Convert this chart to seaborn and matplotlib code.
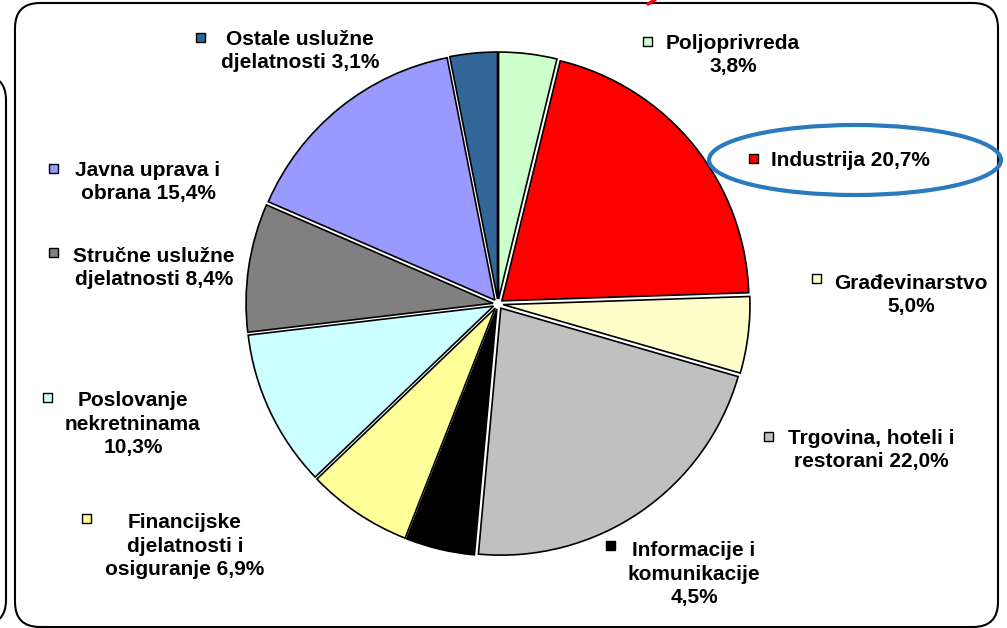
import matplotlib
matplotlib.use("Agg")
import matplotlib.pyplot as plt
from matplotlib.patches import Ellipse, FancyBboxPatch, Rectangle
import seaborn as sns

W, H = 1007, 628

SECTORS = [
    "Poljoprivreda", "Industrija", "Građevinarstvo", "Trgovina, hoteli i restorani",
    "Informacije i komunikacije", "Financijske djelatnosti i osiguranje",
    "Poslovanje nekretninama", "Stručne uslužne djelatnosti",
    "Javna uprava i obrana", "Ostale uslužne djelatnosti",
]
SHARES = [3.8, 20.7, 5.0, 22.0, 4.5, 6.9, 10.3, 8.4, 15.4, 3.1]
COLORS = ["#CCFFCC", "#FF0000", "#FFFFCC", "#C0C0C0", "#000000",
          "#FFFF99", "#CCFFFF", "#808080", "#9999FF", "#336699"]
LABEL_TEXTS = [
    "Poljoprivreda\n3,8%",
    "Industrija 20,7%",
    "Građevinarstvo\n5,0%",
    "Trgovina, hoteli i\nrestorani 22,0%",
    "Informacije i\nkomunikacije\n4,5%",
    "Financijske\ndjelatnosti i\nosiguranje 6,9%",
    "Poslovanje\nnekretninama\n10,3%",
    "Stručne uslužne\ndjelatnosti 8,4%",
    "Javna uprava i\nobrana 15,4%",
    "Ostale uslužne\ndjelatnosti 3,1%",
]

# label layout in pixel coords: (text x, block centre y, alignment, marker x, marker y)
LABEL_LAYOUT = [
    (733, 55, "center", 647, 41),
    (771, 160, "left", 753, 158),
    (911, 295, "center", 816, 278),
    (871, 450, "center", 768, 436),
    (694, 574, "center", 610, 545),
    (185, 546, "center", 86, 518),
    (133, 424, "center", 47, 397),
    (154, 268, "center", 53, 252),
    (148, 182, "center", 53, 168),
    (300, 51, "center", 200, 37),
]


def main() -> None:
    sns.set_theme(style="white")
    plt.rcParams["font.family"] = ["Liberation Sans", "DejaVu Sans"]

    fig = plt.figure(figsize=(W / 100, H / 100), dpi=100)
    ax = fig.add_axes([0, 0, 1, 1])
    ax.set_xlim(0, W)
    ax.set_ylim(H, 0)
    ax.set_aspect("equal")
    ax.axis("off")

    # frames
    ax.add_patch(FancyBboxPatch((40, 28), 933, 574, boxstyle="round,pad=25,rounding_size=25",
                                fill=False, edgecolor="black", linewidth=1.5, zorder=1))
    ax.add_patch(FancyBboxPatch((-60, 100), 41, 500, boxstyle="round,pad=25,rounding_size=25",
                                fill=False, edgecolor="black", linewidth=1.5, zorder=1))
    ax.plot([648, 655], [4, 0], color="red", linewidth=2.5, solid_capstyle="round")

    # pie (y axis inverted, so counterclock=True runs clockwise on screen);
    # explode is in data units here, i.e. pixels
    ax.pie(SHARES, colors=COLORS, explode=[5] * len(SHARES), center=(498, 304),
           radius=247, startangle=270, counterclock=True,
           wedgeprops={"edgecolor": "black", "linewidth": 1.2})
    ax.set_xlim(0, W)
    ax.set_ylim(H, 0)

    for text, color, (tx, ty, ha, mx, my) in zip(LABEL_TEXTS, COLORS, LABEL_LAYOUT):
        ax.add_patch(Rectangle((mx - 4.5, my - 4.5), 9, 9, facecolor=color,
                               edgecolor="black", linewidth=1, zorder=3))
        ax.text(tx, ty, text, ha=ha, va="center", multialignment=ha,
                fontsize=15, fontweight="bold", linespacing=1.28, color="black")

    ax.add_patch(Ellipse((855, 160), 292, 70, fill=False, edgecolor="#2A7AC0",
                         linewidth=3, zorder=4))

    fig.savefig("out.png", dpi=100)
    plt.close(fig)


if __name__ == "__main__":
    main()
